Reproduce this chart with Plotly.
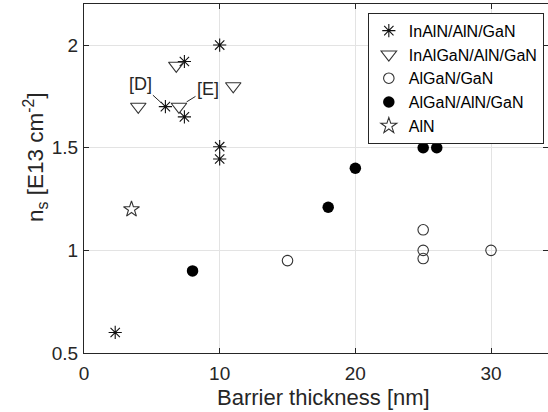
import plotly.graph_objects as go

# ---- data ----
inaln_x = [2.3, 6.0, 7.4, 7.4, 10.0, 10.0, 10.0]
inaln_y = [0.60, 1.70, 1.92, 1.65, 2.00, 1.505, 1.445]

inalgan_x = [4.0, 6.8, 7.0, 11.0]
inalgan_y = [1.70, 1.90, 1.70, 1.80]

algan_x = [15.0, 25.0, 25.0, 25.0, 30.0]
algan_y = [0.95, 1.10, 1.00, 0.96, 1.00]

algan_aln_x = [8.0, 18.0, 20.0, 25.0, 26.0]
algan_aln_y = [0.90, 1.21, 1.40, 1.50, 1.50]

aln_x = [3.5]
aln_y = [1.20]

x_ticks = [0, 10, 20, 30]
y_ticks = [0.5, 1, 1.5, 2]

FONT = "Liberation Sans, Arial, sans-serif"
TXT = "#262626"

fig = go.Figure()
fig.add_trace(go.Scatter(x=inaln_x, y=inaln_y, mode="markers", name="InAlN/AlN/GaN",
                         marker=dict(symbol="asterisk-open", size=11, color="#111111",
                                     line=dict(width=1.1, color="#111111"))))
fig.add_trace(go.Scatter(x=inalgan_x, y=inalgan_y, mode="markers", name="InAlGaN/AlN/GaN",
                         marker=dict(symbol="triangle-down-open", size=13.5, color="#333333",
                                     line=dict(width=1.1, color="#333333"))))
fig.add_trace(go.Scatter(x=algan_x, y=algan_y, mode="markers", name="AlGaN/GaN",
                         marker=dict(symbol="circle-open", size=10.5, color="#333333",
                                     line=dict(width=1.1, color="#333333"))))
fig.add_trace(go.Scatter(x=algan_aln_x, y=algan_aln_y, mode="markers", name="AlGaN/AlN/GaN",
                         marker=dict(symbol="circle", size=11.5, color="#000000",
                                     line=dict(width=0))))
fig.add_trace(go.Scatter(x=aln_x, y=aln_y, mode="markers", name="AlN",
                         marker=dict(symbol="star-open", size=12, color="#333333",
                                     line=dict(width=1.1, color="#333333"))))

ann = [
    dict(x=6.0, y=1.70, text="[D]", showarrow=True, arrowhead=0, arrowwidth=1,
         arrowcolor=TXT, ax=-25, ay=-23, standoff=6,
         font=dict(family=FONT, size=18, color=TXT)),
    dict(x=7.0, y=1.70, text="[E]", showarrow=True, arrowhead=0, arrowwidth=1,
         arrowcolor=TXT, ax=29, ay=-18, standoff=9,
         font=dict(family=FONT, size=18, color=TXT)),
    dict(x=(323 - 84) / 464, y=-(397 - 353) / 349, xref="paper", yref="paper",
         text="Barrier thickness [nm]", showarrow=False,
         xanchor="center", yanchor="middle",
         font=dict(family=FONT, size=22, color=TXT)),
    dict(x=-(84 - 35) / 464, y=(353 - 158) / 349, xref="paper", yref="paper",
         text="n<sub>s</sub> [E13 cm<sup>-2</sup>]", showarrow=False, textangle=-90,
         xanchor="center", yanchor="middle",
         font=dict(family=FONT, size=22.5, color=TXT)),
]

axis_common = dict(showline=True, linecolor=TXT, linewidth=1, mirror="ticks",
                   ticks="inside", ticklen=5, tickcolor=TXT, tickwidth=1,
                   showgrid=True, gridcolor="#e3e3e3", gridwidth=1, zeroline=False,
                   tickfont=dict(family=FONT, size=19, color=TXT))

fig.update_layout(
    width=548, height=412,
    margin=dict(l=84, r=0, t=4, b=59),
    paper_bgcolor="white", plot_bgcolor="white",
    xaxis=dict(range=[0, 34.2], tickvals=x_ticks, ticklabelstandoff=3, **axis_common),
    yaxis=dict(range=[0.5, 2.2], tickvals=y_ticks, ticklabelstandoff=1, **axis_common),
    showlegend=True,
    legend=dict(x=0.991, y=0.975, xanchor="right", yanchor="top",
                bgcolor="white", bordercolor=TXT, borderwidth=1,
                font=dict(family=FONT, size=16, color="#000000"),
                itemsizing="trace"),
    annotations=ann,
)

fig.write_html("out.html")
